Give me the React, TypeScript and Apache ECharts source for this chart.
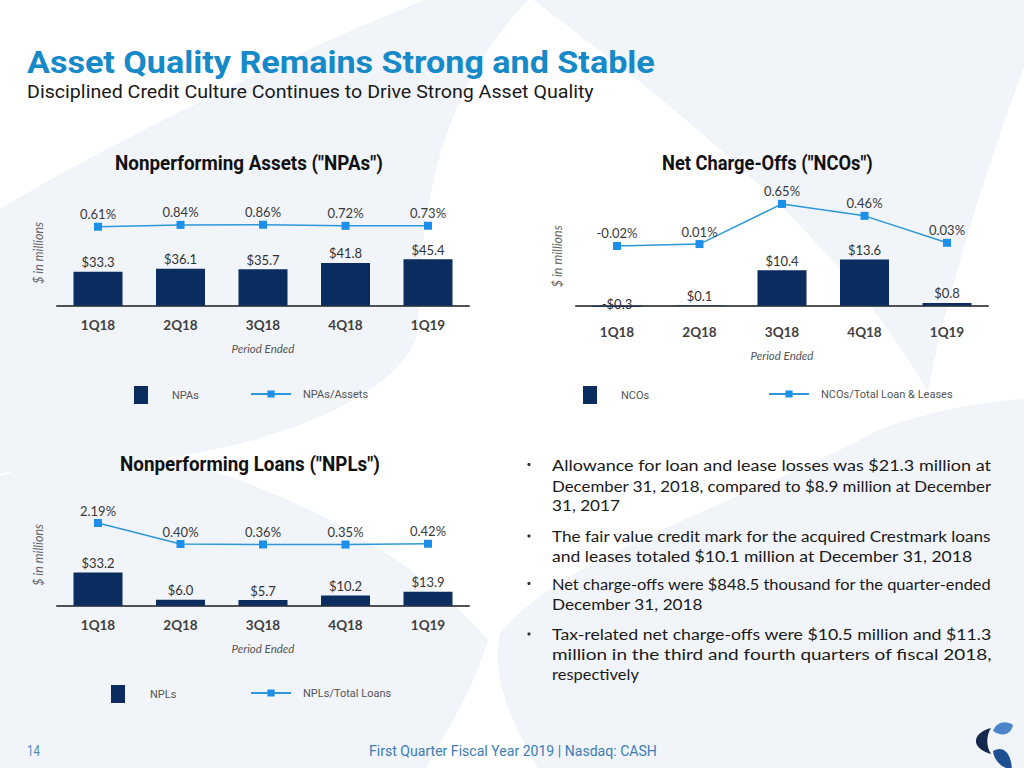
import React, { useEffect, useRef } from "react";
import * as echarts from "echarts";

// ---------------- data ----------------
const QUARTERS = ["1Q18", "2Q18", "3Q18", "4Q18", "1Q19"];
const NPA_VALUES = [33.3, 36.1, 35.7, 41.8, 45.4];
const NPA_RATIO = [0.61, 0.84, 0.86, 0.72, 0.73];
const NCO_VALUES = [-0.3, 0.1, 10.4, 13.6, 0.8];
const NCO_RATIO = [-0.02, 0.01, 0.65, 0.46, 0.03];
const NPL_VALUES = [33.2, 6.0, 5.7, 10.2, 13.9];
const NPL_RATIO = [2.19, 0.4, 0.36, 0.35, 0.42];

const BAR_NAMES = ["NPAs", "NCOs", "NPLs"];
const LINE_NAMES = ["NPAs/Assets", "NCOs/Total Loan & Leases", "NPLs/Total Loans"];
const CHART_TITLES = [
  'Nonperforming Assets ("NPAs")',
  'Net Charge-Offs ("NCOs")',
  'Nonperforming Loans ("NPLs")',
];
const Y_NAME = "$ in millions";
const X_NAME = "Period Ended";

const TITLE = "Asset Quality Remains Strong and Stable";
const SUBTITLE = "Disciplined Credit Culture Continues to Drive Strong Asset Quality";
const BULLETS = [
  [
    "Allowance for loan and lease losses was $21.3 million at",
    "December 31, 2018, compared to $8.9 million at December",
    "31, 2017",
  ],
  [
    "The fair value credit mark for the acquired Crestmark loans",
    "and leases totaled $10.1 million at December 31, 2018",
  ],
  [
    "Net charge-offs were $848.5 thousand for the quarter-ended",
    "December 31, 2018",
  ],
  [
    "Tax-related net charge-offs were $10.5 million and $11.3",
    "million in the third and fourth quarters of fiscal 2018,",
    "respectively",
  ],
];
const FOOTER = "First Quarter Fiscal Year 2019 | Nasdaq: CASH";
const PAGE_NUMBER = "14";

// ---------------- layout / style ----------------
const NAVY = "#0B2C5F";
const LINE_BLUE = "#2B98DA";
const MARKER_BLUE = "#1C8FEA";
const BG_GREY = "#F1F4F8";

const PANEL_LAYOUT = [
  { left: 56.75, top: 200, bottom: 305.7, zeroY: 305.7, barPx: 1.0225, lineZeroY: 231.6, linePx: 8,
    legendY: 395, barLegendX: 134, barTextX: 172, lineLegendX: 250, lineTextX: 302,
    titleX: 115, titleY: 163, titleW: 268 },
  { left: 575.75, top: 200, bottom: 312.5, zeroY: 305.7, barPx: 3.4, lineZeroY: 244.7, linePx: 62.7,
    legendY: 395, barLegendX: 583, barTextX: 621, lineLegendX: 768, lineTextX: 820,
    titleX: 662, titleY: 163, titleW: 211 },
  { left: 56.75, top: 504, bottom: 605.7, zeroY: 605.7, barPx: 1.0, lineZeroY: 548.7, linePx: 11.73,
    legendY: 694, barLegendX: 111, barTextX: 150, lineLegendX: 250, lineTextX: 302,
    titleX: 120, titleY: 464, titleW: 260 },
];
const GRID_WIDTH = 412.5;

const BULLET_X = 552;
const BULLET_DOT_X = 529;
const BULLET_LINE_Y = [
  [464.5, 485.5, 505.5],
  [536, 556],
  [583.5, 604],
  [634, 654, 674],
];
const BULLET_LINE_W = [
  [440, 440, 68],
  [440, 421],
  [440, 151],
  [440, 440, 87],
];

// background watermark + logo shapes
const SHAPES: Record<string, string> = {
  bgA: "M 600 -60 C 450 40 420 180 418 330 C 405 400 250 455 120 462 C 60 466 20 470 -10 475 L -10 215 C 80 160 200 100 330 40 C 420 0 520 -40 600 -60 Z",
  bgB: "M -10 480 C 40 462 85 447 115 447 C 250 470 400 540 488 640 C 470 700 440 740 420 780 L -10 780 Z",
  bgC: "M 520 -10 C 640 80 830 220 928 392 C 945 300 985 170 1034 40 L 1034 -10 Z",
  bgD: "M 1034 398 C 990 400 900 415 860 440 C 720 510 560 560 500 633 C 490 680 515 730 545 780 L 1034 780 Z",
  logoL: "M 991 728 C 972 733 970 748 991 754 C 986 746 986 736 991 728 Z",
  logoT: "M 993 731 C 996 722 1006 720 1013 725 C 1011 735 1002 737 993 731 Z",
  logoB: "M 993 751 C 1003 745 1011 752 1012 770 C 1002 768 994 761 993 751 Z",
};
Object.keys(SHAPES).forEach((k) => {
  echarts.graphic.registerShape(k, echarts.graphic.extendPath(SHAPES[k], {}));
});

let measureCtx: CanvasRenderingContext2D | null = null;
function measure(text: string, font: string) {
  if (!measureCtx) measureCtx = document.createElement("canvas").getContext("2d");
  measureCtx!.font = font;
  return measureCtx!.measureText(text).width;
}

function fitText(text: string, x: number, y: number, width: number, font: string, fill: string) {
  const w = measure(text, font);
  const sx = w > 0 ? width / w : 1;
  return {
    type: "text",
    x,
    y,
    scaleX: sx,
    z: 20,
    style: {
      text,
      font,
      fill,
      textAlign: "left",
      textVerticalAlign: "middle",
      align: "left",
      verticalAlign: "middle",
    },
  };
}

function buildOption() {
  const panels = [
    { values: NPA_VALUES, ratio: NPA_RATIO },
    { values: NCO_VALUES, ratio: NCO_RATIO },
    { values: NPL_VALUES, ratio: NPL_RATIO },
  ];
  const grid: any[] = [];
  const xAxis: any[] = [];
  const yAxis: any[] = [];
  const series: any[] = [];
  const legend: any[] = [];

  panels.forEach((p, i) => {
    const L = PANEL_LAYOUT[i];
    grid.push({
      left: L.left,
      top: L.top,
      width: GRID_WIDTH,
      height: L.bottom - L.top,
      containLabel: false,
      outerBoundsMode: "none",
    });
    xAxis.push({
      type: "category",
      gridIndex: i,
      data: QUARTERS,
      axisTick: { show: false },
      axisLine: { onZero: true, onZeroAxisIndex: 2 * i, lineStyle: { color: "#1a1a1a", width: 1.5 } },
      axisLabel: { margin: 12, fontFamily: "Lato", fontWeight: "bold", fontSize: 13.5, color: "#404040" },
      name: X_NAME,
      nameLocation: "middle",
      nameGap: 37,
      nameTextStyle: { fontFamily: "Lato", fontStyle: "italic", fontSize: 11.5, color: "#555" },
    });
    yAxis.push({
      type: "value",
      gridIndex: i,
      min: (L.zeroY - L.bottom) / L.barPx,
      max: (L.zeroY - L.top) / L.barPx,
      axisLine: { show: false },
      axisTick: { show: false },
      axisLabel: { show: false },
      splitLine: { show: false },
      name: Y_NAME,
      nameLocation: "middle",
      nameRotate: 90,
      nameGap: 12,
      nameTextStyle: { fontFamily: "Lato", fontStyle: "italic", fontSize: 12.5, color: "#666" },
    });
    yAxis.push({
      type: "value",
      gridIndex: i,
      min: (L.lineZeroY - L.bottom) / L.linePx,
      max: (L.lineZeroY - L.top) / L.linePx,
      show: false,
      splitLine: { show: false },
    });
    series.push({
      type: "bar",
      name: BAR_NAMES[i],
      xAxisIndex: i,
      yAxisIndex: 2 * i,
      barWidth: 49,
      itemStyle: { color: NAVY },
      data: p.values.map((v) => (v < 0 ? { value: v, label: { offset: [0, 8] } } : v)),
      label: {
        show: true,
        position: "top",
        distance: 3,
        fontFamily: "Lato",
        fontSize: 13,
        color: "#333",
        formatter: (d: any) => (d.value < 0 ? "-$" : "$") + Math.abs(d.value).toFixed(1),
      },
    });
    series.push({
      type: "line",
      name: LINE_NAMES[i],
      xAxisIndex: i,
      yAxisIndex: 2 * i + 1,
      data: p.ratio,
      symbol: "rect",
      symbolSize: 8,
      clip: false,
      lineStyle: { color: LINE_BLUE, width: 1.5 },
      itemStyle: { color: MARKER_BLUE },
      z: 5,
      label: {
        show: true,
        position: "top",
        distance: 2,
        fontFamily: "Lato",
        fontSize: 13,
        color: "#3a3a3a",
        formatter: (d: any) => d.value.toFixed(2) + "%",
      },
    });
    legend.push({
      data: [BAR_NAMES[i]],
      left: L.barLegendX,
      top: L.legendY - 9,
      padding: 0,
      itemWidth: 14,
      itemHeight: 18,
      icon: "rect",
      selectedMode: false,
      textStyle: {
        fontFamily: "Roboto",
        fontSize: 11,
        color: "#555",
        padding: [0, 0, 0, L.barTextX - (L.barLegendX + 14 + 5)],
      },
    });
    legend.push({
      data: [LINE_NAMES[i]],
      left: L.lineLegendX,
      top: L.legendY - 6.5,
      padding: 0,
      itemWidth: 40,
      itemHeight: 9,
      selectedMode: false,
      textStyle: {
        fontFamily: "Roboto",
        fontSize: 11,
        color: "#555",
        padding: [0, 0, 0, L.lineTextX - (L.lineLegendX + 40 + 5)],
      },
    });
  });

  const graphics: any[] = [];
  ["bgA", "bgB", "bgC", "bgD"].forEach((k) =>
    graphics.push({ type: k, z: -100, silent: true, style: { fill: BG_GREY } })
  );
  graphics.push({ type: "logoL", z: 20, style: { fill: "#14284B" } });
  graphics.push({ type: "logoT", z: 20, style: { fill: "#4B87C8" } });
  graphics.push({ type: "logoB", z: 20, style: { fill: "#1E4F93" } });

  graphics.push(fitText(TITLE, 27, 63, 628, "bold 31px Roboto", "#1689C9"));
  graphics.push(fitText(SUBTITLE, 27, 92, 567, "19px Roboto", "#1a1a1a"));
  CHART_TITLES.forEach((t, i) => {
    const L = PANEL_LAYOUT[i];
    graphics.push(fitText(t, L.titleX, L.titleY, L.titleW, "bold 20px Roboto", "#111"));
  });
  BULLETS.forEach((lines, b) => {
    graphics.push({
      type: "circle",
      z: 20,
      shape: { cx: BULLET_DOT_X, cy: BULLET_LINE_Y[b][0], r: 1.6 },
      style: { fill: "#333" },
    });
    lines.forEach((line, j) => {
      graphics.push(fitText(line, BULLET_X, BULLET_LINE_Y[b][j], BULLET_LINE_W[b][j], "16px Lato", "#1a1a1a"));
    });
  });
  graphics.push(fitText(PAGE_NUMBER, 27, 751, 13, "14px Roboto", "#5B8DBF"));
  graphics.push(fitText(FOOTER, 369, 751, 288, "14px Roboto", "#3D7DB5"));

  return {
    animation: false,
    backgroundColor: "#ffffff",
    grid,
    xAxis,
    yAxis,
    series,
    legend,
    graphic: { elements: graphics },
  };
}

export default function App() {
  const ref = useRef<HTMLDivElement>(null);
  useEffect(() => {
    if (!ref.current) return;
    const chart = echarts.init(ref.current, null, { renderer: "svg", width: 1024, height: 768 });
    chart.setOption(buildOption() as any);
    return () => chart.dispose();
  }, []);
  return (
    <div
      ref={ref}
      style={{ position: "absolute", left: 0, top: 0, width: 1024, height: 768 }}
    />
  );
}
